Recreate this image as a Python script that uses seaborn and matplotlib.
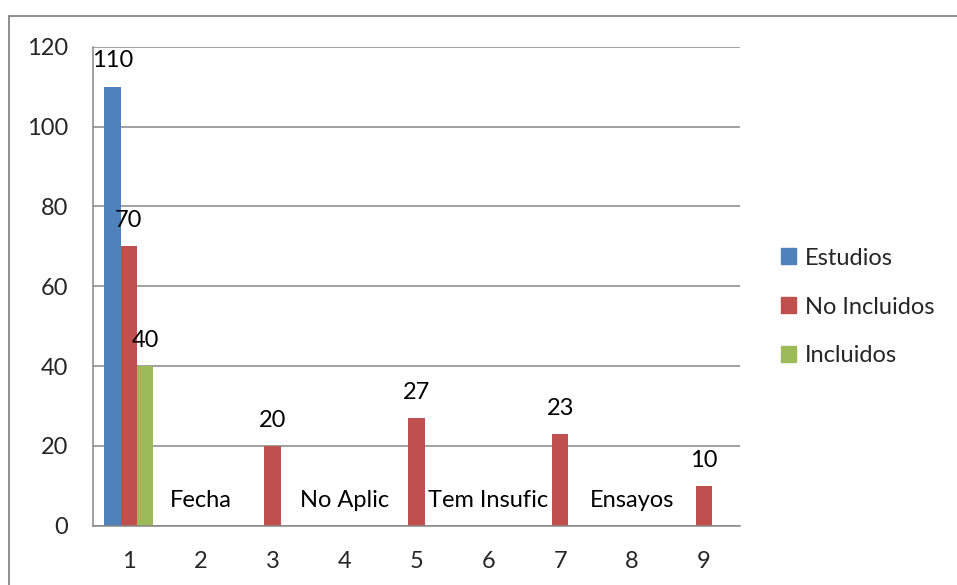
import numpy as np
import pandas as pd
import seaborn as sns
import matplotlib.pyplot as plt
from matplotlib.lines import Line2D

categories = [1, 2, 3, 4, 5, 6, 7, 8, 9]
series = ["Estudios", "No Incluidos", "Incluidos"]
estudios = [110, 0, 0, 0, 0, 0, 0, 0, 0]
no_incluidos = [70, 0, 20, 0, 27, 0, 23, 0, 10]
incluidos = [40, 0, 0, 0, 0, 0, 0, 0, 0]
estudios_labels = ["110", "", "", "", "", "", "", "", ""]
no_incluidos_labels = ["70", "Fecha", "20", "No Aplic", "27", "Tem Insufic", "23", "Ensayos", "10"]
incluidos_labels = ["40", "", "", "", "", "", "", "", ""]
yticks = [0, 20, 40, 60, 80, 100, 120]

colors = ["#4F81BD", "#C0504D", "#9BBB59"]
grid_col = "#868686"
fs = 17

sns.set_style("white")
plt.rcParams['font.family'] = ['Lato', 'DejaVu Sans']

df = pd.DataFrame({
    "cat": categories * 3,
    "serie": [s for s in series for _ in categories],
    "valor": estudios + no_incluidos + incluidos,
})

fig = plt.figure(figsize=(9.57, 5.85), dpi=100)
ax = fig.add_axes([92.7 / 957, 1 - 525.7 / 585, (740 - 92.7) / 957, (525.7 - 46.7) / 585])

sns.barplot(data=df, x="cat", y="valor", hue="serie", order=categories, hue_order=series,
            palette=colors, width=0.68, gap=0, saturation=1, linewidth=0, ax=ax, legend=True,
            errorbar=None)

ax.set_ylim(0, 120)
ax.set_xlim(-0.5, 8.5)
ax.set_yticks(yticks)
ax.set_yticklabels([str(t) for t in yticks])
ax.set_xlabel("")
ax.set_ylabel("")
ax.set_axisbelow(True)
ax.yaxis.grid(True, color=grid_col, linewidth=1.1)
ax.xaxis.grid(False)
for side in ["top", "right"]:
    ax.spines[side].set_visible(False)
for side in ["left", "bottom"]:
    ax.spines[side].set_color(grid_col)
    ax.spines[side].set_linewidth(1.1)

ax.tick_params(axis="y", which="major", length=5.5, width=1.1, color=grid_col, pad=12, labelsize=fs)
ax.tick_params(axis="x", which="major", length=0, pad=18, labelsize=fs)
ax.set_xticks(np.arange(-0.5, 9.0, 1.0), minor=True)
ax.tick_params(axis="x", which="minor", length=6, width=1.1, color=grid_col, direction="out")

# data labels, Excel style above each bar
all_labels = [estudios_labels, no_incluidos_labels, incluidos_labels]
all_vals = [estudios, no_incluidos, incluidos]
for cont, labs, vals in zip(ax.containers, all_labels, all_vals):
    for rect, lab, v in zip(cont.patches, labs, vals):
        if lab == "":
            continue
        xc = rect.get_x() + rect.get_width() / 2
        if v == 0:
            xc = round(xc)
        ax.annotate(lab, (xc, v), xytext=(0, 18.5), textcoords="offset points",
                    ha="center", va="center", fontsize=fs, color="black")

handles = [plt.Rectangle((0, 0), 1, 1, color=c) for c in colors]
ax.legend(handles, series, loc="center left", bbox_to_anchor=(781 / 957, 1 - 307 / 585),
          bbox_transform=fig.transFigure, frameon=False, fontsize=fs,
          handlelength=0.65, handleheight=0.65, handletextpad=0.35, labelspacing=1.18,
          borderaxespad=0, borderpad=0)

# outer chart border
fig.add_artist(Line2D([9 / 957, 1], [1 - 16 / 585] * 2, transform=fig.transFigure, color=grid_col, linewidth=1.3))
fig.add_artist(Line2D([9 / 957] * 2, [0, 1 - 16 / 585], transform=fig.transFigure, color=grid_col, linewidth=1.3))

fig.savefig("out.png", dpi=100)
